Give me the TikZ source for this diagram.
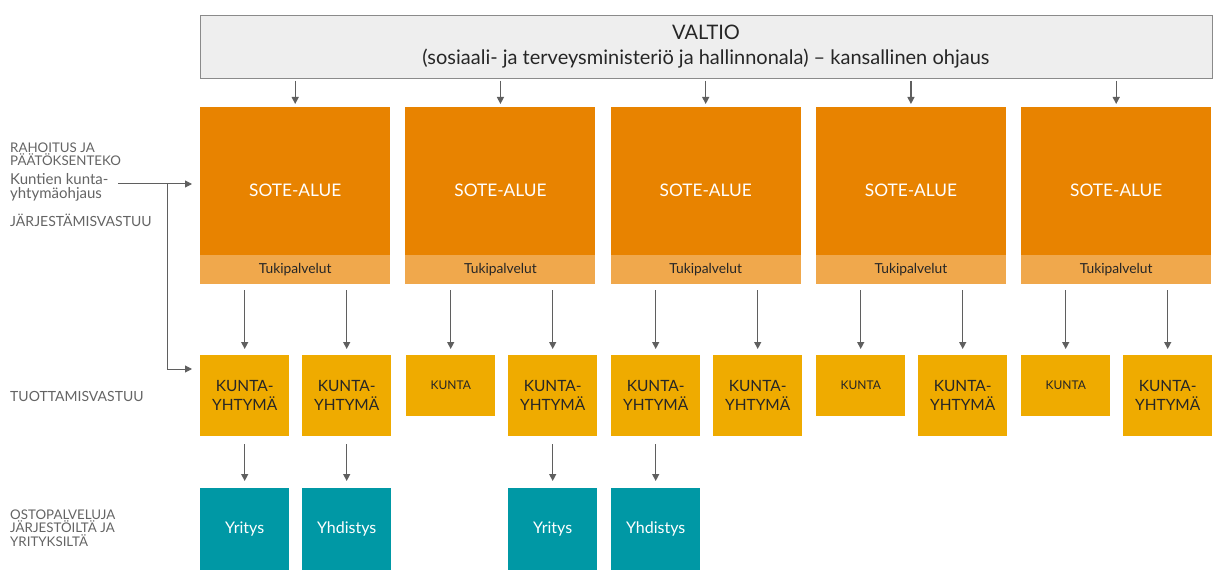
\documentclass[tikz,border=0pt]{standalone}
\usepackage{fontspec}
\setmainfont{Lato}
\usetikzlibrary{arrows.meta}
\definecolor{soteor}{HTML}{E88300}
\definecolor{tukior}{HTML}{F0A84C}
\definecolor{kuntay}{HTML}{EFAB00}
\definecolor{tealc}{HTML}{0098A5}
\definecolor{boxgray}{HTML}{EEEEEE}
\definecolor{bordergray}{HTML}{8A8A8A}
\definecolor{labgray}{HTML}{646464}
\definecolor{arrgray}{HTML}{5F5F5F}
\begin{document}
\begin{tikzpicture}[x=1pt,y=-1pt,
  box/.style={rectangle,inner sep=0pt,anchor=north west,align=center},
  sotebox/.style={box,fill=soteor,minimum width=190pt,minimum height=148pt},
  sotetext/.style={inner sep=0pt,text=white,font=\fontsize{17.3}{20}\selectfont},
  tukibox/.style={box,fill=tukior,minimum width=190pt,minimum height=29pt,text=black!85,font=\fontsize{13.8}{15}\selectfont},
  kybox/.style={box,fill=kuntay,minimum width=89pt,minimum height=81pt,text=black!85,font=\fontsize{15.5}{19}\selectfont},
  kbox/.style={box,fill=kuntay,minimum width=89pt,minimum height=61pt,text=black!85,font=\fontsize{12}{14}\selectfont},
  tbox/.style={box,fill=tealc,minimum width=89pt,minimum height=82pt,text=white,font=\fontsize{16}{19}\selectfont},
  lab/.style={anchor=west,align=left,inner sep=0pt,text=labgray,font=\fontsize{13.3}{13.4}\selectfont},
  arr/.style={draw=arrgray,line width=1.3pt,-{Triangle[length=7pt,width=7pt]}}
]
\useasboundingbox (0,0) rectangle (1226,588);
% VALTIO
\node[box,fill=boxgray,draw=bordergray,line width=1pt,minimum width=1012pt,minimum height=63pt] (valtio) at (200,15) {};
\node[inner sep=0pt,align=center,font=\fontsize{20}{25}\selectfont,text=black!85] (valtiotext) at (706,46.5) {VALTIO\\(sosiaali- ja terveysministeriö ja hallinnonala) – kansallinen ohjaus};
% SOTE columns
\foreach \i/\x in {1/200,2/405.25,3/610.5,4/815.75,5/1021}{
  \node[sotebox] (s\i) at (\x,107) {};
  \node[sotetext] (st\i) at ([yshift=-9pt]s\i.center) {SOTE-ALUE};
  \node[tukibox] (t\i) at (\x,255) {\raisebox{-1.5pt}{Tukipalvelut}};
  \draw[arr,shorten <=2pt,shorten >=3pt] (valtio.south -| s\i.north) -- (s\i.north);
}
% municipal level
\node[kybox] (a1) at (200,355) {KUNTA-\\YHTYMÄ};
\node[kybox] (b1) at (302,355) {KUNTA-\\YHTYMÄ};
\node[kbox] (a2) at (406,355) {KUNTA};
\node[kybox] (b2) at (508,355) {KUNTA-\\YHTYMÄ};
\node[kybox] (a3) at (611,355) {KUNTA-\\YHTYMÄ};
\node[kybox] (b3) at (713,355) {KUNTA-\\YHTYMÄ};
\node[kbox] (a4) at (816,355) {KUNTA};
\node[kybox] (b4) at (918,355) {KUNTA-\\YHTYMÄ};
\node[kbox] (a5) at (1021,355) {KUNTA};
\node[kybox] (b5) at (1123,355) {KUNTA-\\YHTYMÄ};
\foreach \i in {1,...,5}{
  \draw[arr,shorten <=6pt,shorten >=6pt] (t\i.south -| a\i.north) -- (a\i.north);
  \draw[arr,shorten <=6pt,shorten >=6pt] (t\i.south -| b\i.north) -- (b\i.north);
}
% purchased services
\node[tbox] (y1) at (200,488) {Yritys};
\node[tbox] (h1) at (302,488) {Yhdistys};
\node[tbox] (y2) at (508,488) {Yritys};
\node[tbox] (h2) at (611,488) {Yhdistys};
\draw[arr,shorten <=8pt,shorten >=7pt] (a1.south) -- (y1.north);
\draw[arr,shorten <=8pt,shorten >=7pt] (b1.south) -- (h1.north);
\draw[arr,shorten <=8pt,shorten >=7pt] (b2.south) -- (y2.north);
\draw[arr,shorten <=8pt,shorten >=7pt] (a3.south) -- (h2.north);
% left labels
\node[lab] (l1) at (10,154) {RAHOITUS JA\\PÄÄTÖKSENTEKO};
\node[lab,font=\fontsize{15}{14}\selectfont] (l2) at (10,187) {Kuntien kunta-\\yhtymäohjaus};
\node[lab,font=\fontsize{14}{14}\selectfont] (l3) at (10,220) {JÄRJESTÄMISVASTUU};
\node[lab,font=\fontsize{14}{14}\selectfont] (l4) at (10,396) {TUOTTAMISVASTUU};
\node[lab] (l5) at (10,528) {OSTOPALVELUJA\\JÄRJESTÖILTÄ JA\\YRITYKSILTÄ};
% steering arrows
\coordinate (c0) at (118,184);
\coordinate (c1) at (167,184);
\coordinate (c2) at (167,369);
\draw[arr,line width=1pt,shorten >=8pt] (c0) -- (c0 -| s1.west);
\draw[arr,line width=1pt,shorten >=8pt] (c1) -- (c2) -- (c2 -| a1.west);
\end{tikzpicture}
\end{document}
